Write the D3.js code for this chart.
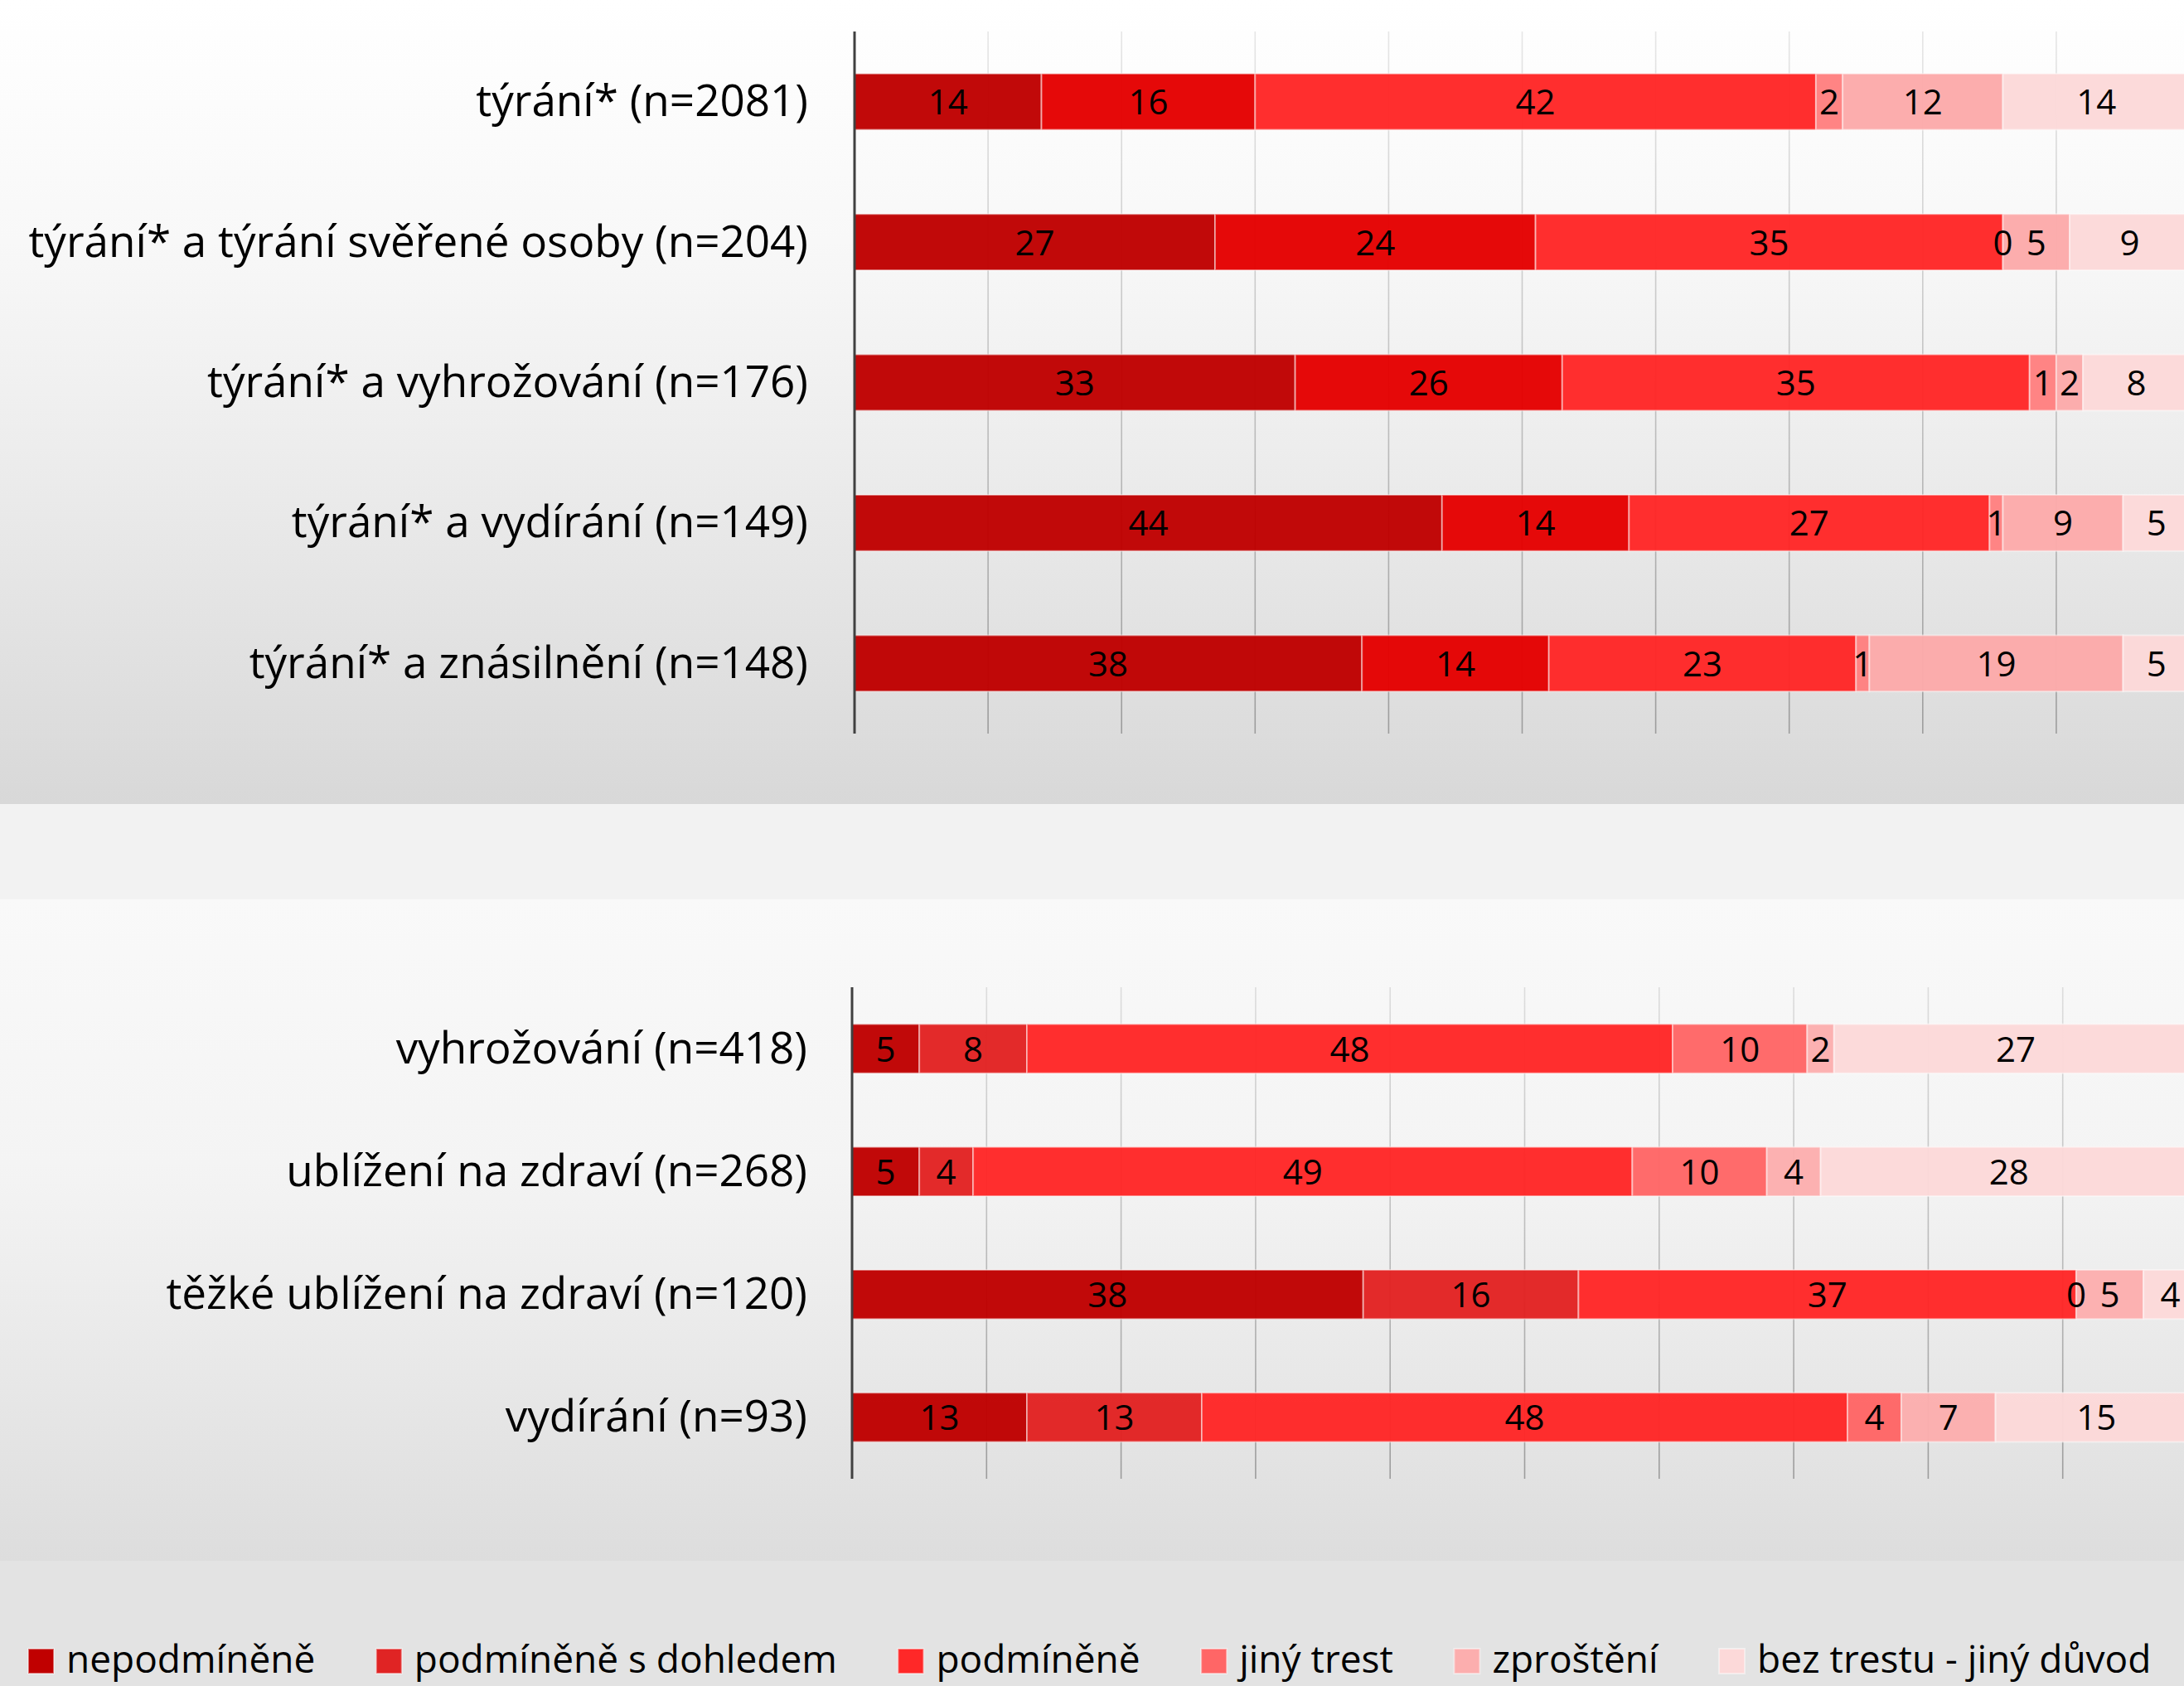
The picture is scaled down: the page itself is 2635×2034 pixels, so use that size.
<!DOCTYPE html>
<html>
<head>
<meta charset="utf-8">
<script src="https://cdn.jsdelivr.net/npm/d3@7"></script>
<style>
  html, body { margin: 0; padding: 0; background: #ffffff; }
  svg { display: block; font-family: "Open Sans", "Noto Sans", sans-serif; }
</style>
</head>
<body>
<svg id="chart" width="2635" height="2034"></svg>
<script>
// ---------- DATA ----------
const seriesNames = ["nepodmíněně", "podmíněně s dohledem", "podmíněně", "jiný trest", "zproštění", "bez trestu - jiný důvod"];

const topCategories = [
  "týrání* (n=2081)",
  "týrání* a týrání svěřené osoby (n=204)",
  "týrání* a vyhrožování (n=176)",
  "týrání* a vydírání (n=149)",
  "týrání* a znásilnění (n=148)"
];
// segment widths (%), one array per series
const topNepodminene   = [14, 27, 33, 44, 38];
const topSDohledem     = [16, 24, 20, 14, 14];
const topPodminene     = [42, 35, 35, 27, 23];
const topJinyTrest     = [2, 0, 2, 1, 1];
const topZprosteni     = [12, 5, 2, 9, 19];
const topBezTrestu     = [14, 9, 8, 5, 5];
// printed data labels (differ from widths in one bar of the original)
const topLabels = [
  [14, 16, 42, 2, 12, 14],
  [27, 24, 35, 0, 5, 9],
  [33, 26, 35, 1, 2, 8],
  [44, 14, 27, 1, 9, 5],
  [38, 14, 23, 1, 19, 5]
];

const bottomCategories = [
  "vyhrožování (n=418)",
  "ublížení na zdraví (n=268)",
  "těžké ublížení na zdraví (n=120)",
  "vydírání (n=93)"
];
const botNepodminene = [5, 5, 38, 13];
const botSDohledem   = [8, 4, 16, 13];
const botPodminene   = [48, 49, 37, 48];
const botJinyTrest   = [10, 10, 0, 4];
const botZprosteni   = [2, 4, 5, 7];
const botBezTrestu   = [27, 28, 4, 15];

const gridTicks = [10, 20, 30, 40, 50, 60, 70, 80, 90];

// ---------- STYLE ----------
const topColors    = ["#bf0000", "#e40000", "#ff2626", "#ff8080", "#fcaaaa", "#fcd9d9"];
const bottomColors = ["#bf0000", "#e22222", "#ff2626", "#ff6666", "#fcaeae", "#fcd9d9"];
const legendColors = ["#c00000", "#e02424", "#ff2828", "#ff6666", "#fcaeae", "#fcd9d9"];

const svg = d3.select("#chart");
const W = 2635, H = 2034;

const defs = svg.append("defs");
function vGrad(id, y1, y2, stops) {
  const g = defs.append("linearGradient").attr("id", id)
    .attr("gradientUnits", "userSpaceOnUse")
    .attr("x1", 0).attr("x2", 0).attr("y1", y1).attr("y2", y2);
  stops.forEach(s => g.append("stop").attr("offset", s[0]).attr("stop-color", s[1]));
}
vGrad("bgTop", 0, 970, [[0, "#ffffff"], [0.3, "#f8f8f8"], [0.6, "#ebebeb"], [1, "#d8d8d8"]]);
vGrad("bgBot", 1085, 1883, [[0, "#f9f9f9"], [0.4, "#f4f4f4"], [1, "#dddddd"]]);
vGrad("gridTop", 38, 885, [[0, "#e6e6e6"], [1, "#9c9c9c"]]);
vGrad("gridBot", 1191, 1784, [[0, "#dddddd"], [1, "#9c9c9c"]]);

// backgrounds
svg.append("rect").attr("x", 0).attr("y", 0).attr("width", W).attr("height", 970).attr("fill", "url(#bgTop)");
svg.append("rect").attr("x", 0).attr("y", 970).attr("width", W).attr("height", 115).attr("fill", "#f2f2f2");
svg.append("rect").attr("x", 0).attr("y", 1085).attr("width", W).attr("height", 798).attr("fill", "url(#bgBot)");
svg.append("rect").attr("x", 0).attr("y", 1883).attr("width", W).attr("height", H - 1883).attr("fill", "#e3e3e3");

function drawPanel(cfg) {
  const x = d3.scaleLinear().domain([0, 100]).range([cfg.x0, cfg.x100]);
  const y = d3.scaleBand().domain(cfg.categories).range([cfg.yTop, cfg.yBot])
    .paddingInner(0.6).paddingOuter(0.3);
  const g = svg.append("g");

  // gridlines
  g.append("g").selectAll("line").data(gridTicks).join("line")
    .attr("x1", d => x(d)).attr("x2", d => x(d))
    .attr("y1", cfg.yTop).attr("y2", cfg.yBot)
    .attr("stroke", cfg.gridFill).attr("stroke-width", 1.6);

  // stack
  const rows = cfg.categories.map((c, i) => {
    const o = { cat: c };
    cfg.series.forEach((s, k) => { o[seriesNames[k]] = s[i]; });
    return o;
  });
  const stacked = d3.stack().keys(seriesNames)(rows);

  const layers = g.append("g").selectAll("g").data(stacked).join("g")
    .attr("fill", (d, k) => cfg.colors[k]);
  layers.selectAll("rect").data(d => d).join("rect")
    .attr("x", d => x(d[0]))
    .attr("y", d => y(d.data.cat))
    .attr("width", d => Math.max(0, x(d[1]) - x(d[0])))
    .attr("height", y.bandwidth())
    .attr("fill-opacity", 0.965)
    .attr("stroke", "rgba(255,255,255,0.45)")
    .attr("stroke-width", 2);

  // value labels
  const lab = g.append("g").attr("font-size", 42).attr("fill", "#000").attr("text-anchor", "middle");
  stacked.forEach((layer, k) => {
    layer.forEach((d, i) => {
      const txt = cfg.labels ? cfg.labels[i][k] : (d[1] - d[0]);
      lab.append("text")
        .attr("x", (x(d[0]) + x(d[1])) / 2)
        .attr("y", y(d.data.cat) + y.bandwidth() / 2)
        .attr("dy", "0.37em")
        .text(txt);
    });
  });

  // category labels
  g.append("g").selectAll("text").data(cfg.categories).join("text")
    .attr("x", cfg.labelX)
    .attr("y", d => y(d) + y.bandwidth() / 2)
    .attr("dy", "0.33em")
    .attr("text-anchor", "end")
    .attr("font-size", 53)
    .attr("fill", "#000")
    .text(d => d);

  // axis line
  g.append("line").attr("x1", cfg.x0).attr("x2", cfg.x0)
    .attr("y1", cfg.yTop).attr("y2", cfg.yBot)
    .attr("stroke", "#404040").attr("stroke-width", 3);
}

drawPanel({
  categories: topCategories,
  series: [topNepodminene, topSDohledem, topPodminene, topJinyTrest, topZprosteni, topBezTrestu],
  labels: topLabels,
  colors: topColors,
  x0: 1031, x100: 2642, yTop: 38, yBot: 885, labelX: 975, gridFill: "url(#gridTop)"
});

drawPanel({
  categories: bottomCategories,
  series: [botNepodminene, botSDohledem, botPodminene, botJinyTrest, botZprosteni, botBezTrestu],
  labels: null,
  colors: bottomColors,
  x0: 1028, x100: 2651, yTop: 1191, yBot: 1784, labelX: 974, gridFill: "url(#gridBot)"
});

// legend
const leg = svg.append("g").attr("font-size", 46).attr("fill", "#000");
let lx = 34;
seriesNames.forEach((name, k) => {
  leg.append("rect").attr("x", lx).attr("y", 1989).attr("width", 31).attr("height", 30)
    .attr("fill", legendColors[k]).attr("stroke", "rgba(255,255,255,0.45)").attr("stroke-width", 2);
  const t = leg.append("text").attr("x", lx + 46).attr("y", 2018).text(name);
  const w = t.node().getComputedTextLength();
  lx = lx + 46 + w + 73.5;
});
</script>
</body>
</html>
